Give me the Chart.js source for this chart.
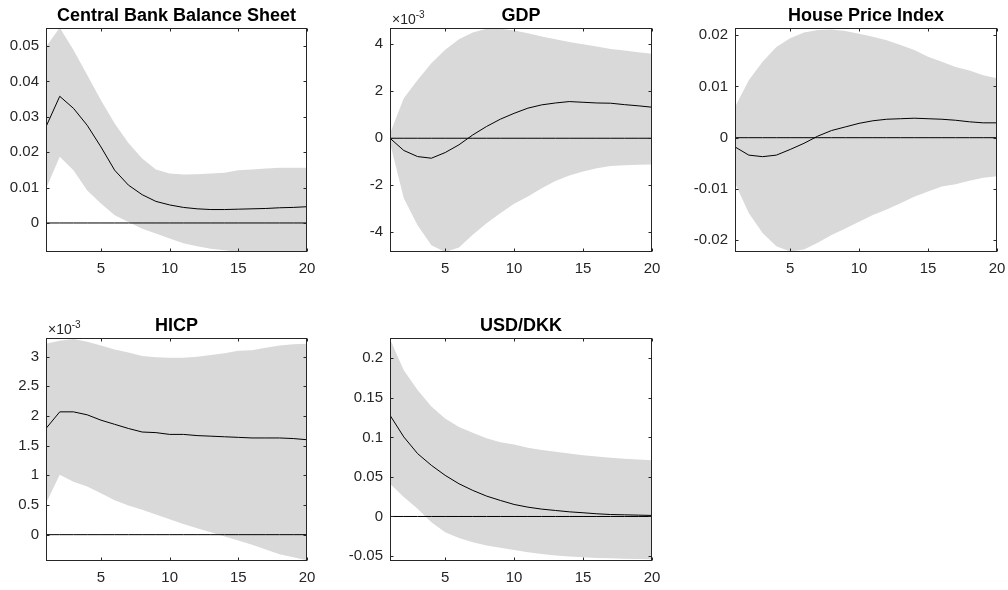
<!DOCTYPE html>
<html>
<head>
<meta charset="utf-8">
<script src="https://cdn.jsdelivr.net/npm/chart.js@4.4.0/dist/chart.umd.min.js"></script>
<style>
  html, body { margin: 0; padding: 0; background: #fff; width: 1008px; height: 590px; overflow: hidden; }
  body { position: relative; }
  canvas { position: absolute; }
</style>
</head>
<body>
<canvas id="cbChart"></canvas>
<canvas id="gdpChart"></canvas>
<canvas id="hpiChart"></canvas>
<canvas id="hicpChart"></canvas>
<canvas id="fxChart"></canvas>
<script>
const horizons = [1, 2, 3, 4, 5, 6, 7, 8, 9, 10, 11, 12, 13, 14, 15, 16, 17, 18, 19, 20];
const xTicks = [5, 10, 15, 20];

// Central Bank Balance Sheet
const cbMedian = [0.0272, 0.0358, 0.0324, 0.0276, 0.0215, 0.0149, 0.0107, 0.0080, 0.0061, 0.0051, 0.0044, 0.0040, 0.0038, 0.0038, 0.0039, 0.0040, 0.0041, 0.0043, 0.0044, 0.0046];
const cbUpper = [0.0498, 0.0552, 0.0489, 0.0418, 0.0347, 0.0281, 0.0226, 0.0182, 0.0151, 0.0140, 0.0137, 0.0138, 0.0140, 0.0142, 0.0149, 0.0151, 0.0154, 0.0156, 0.0156, 0.0156];
const cbLower = [0.0097, 0.0187, 0.0149, 0.0092, 0.0055, 0.0022, 0.0003, -0.0016, -0.0030, -0.0044, -0.0057, -0.0066, -0.0073, -0.0077, -0.0082, -0.0084, -0.0086, -0.0087, -0.0088, -0.0089];
const cbTicks = [0, 0.01, 0.02, 0.03, 0.04, 0.05];
const cbTickLabels = ['0', '0.01', '0.02', '0.03', '0.04', '0.05'];

// GDP (x10^-3)
const gdpMedian = [0, -0.52, -0.78, -0.85, -0.61, -0.28, 0.14, 0.50, 0.81, 1.06, 1.28, 1.42, 1.50, 1.56, 1.53, 1.50, 1.49, 1.43, 1.38, 1.32];
const gdpUpper = [0.2, 1.70, 2.48, 3.19, 3.76, 4.21, 4.50, 4.66, 4.66, 4.58, 4.47, 4.33, 4.21, 4.09, 4.00, 3.90, 3.80, 3.73, 3.66, 3.59];
const gdpLower = [-0.2, -2.55, -3.70, -4.55, -4.84, -4.65, -4.11, -3.62, -3.19, -2.79, -2.48, -2.13, -1.82, -1.59, -1.42, -1.28, -1.18, -1.15, -1.13, -1.12];
const gdpTicks = [-4, -2, 0, 2, 4];
const gdpTickLabels = ['-4', '-2', '0', '2', '4'];

// House Price Index
const hpiMedian = [-0.0018, -0.0034, -0.0037, -0.0034, -0.0023, -0.0011, 0.0003, 0.0014, 0.0021, 0.0028, 0.0033, 0.0036, 0.0037, 0.0038, 0.0037, 0.0036, 0.0034, 0.0031, 0.0029, 0.0029];
const hpiUpper = [0.0060, 0.0112, 0.0148, 0.0177, 0.0194, 0.0205, 0.0210, 0.0211, 0.0208, 0.0203, 0.0197, 0.0190, 0.0181, 0.0171, 0.0158, 0.0148, 0.0138, 0.0131, 0.0122, 0.0116];
const hpiLower = [-0.0089, -0.0147, -0.0186, -0.0212, -0.0222, -0.0218, -0.0205, -0.0190, -0.0177, -0.0164, -0.0151, -0.0140, -0.0128, -0.0115, -0.0105, -0.0095, -0.0091, -0.0084, -0.0078, -0.0075];
const hpiTicks = [-0.02, -0.01, 0, 0.01, 0.02];
const hpiTickLabels = ['-0.02', '-0.01', '0', '0.01', '0.02'];

// HICP (x10^-3)
const hicpMedian = [1.79, 2.07, 2.07, 2.02, 1.93, 1.86, 1.79, 1.73, 1.72, 1.69, 1.69, 1.67, 1.66, 1.65, 1.64, 1.63, 1.63, 1.63, 1.62, 1.60];
const hicpUpper = [3.22, 3.27, 3.30, 3.25, 3.19, 3.12, 3.07, 3.01, 2.99, 2.98, 2.98, 3.00, 3.03, 3.06, 3.10, 3.11, 3.15, 3.19, 3.21, 3.22];
const hicpLower = [0.53, 1.01, 0.89, 0.81, 0.70, 0.58, 0.49, 0.42, 0.34, 0.26, 0.18, 0.11, 0.04, -0.03, -0.10, -0.17, -0.25, -0.33, -0.38, -0.43];
const hicpTicks = [0, 0.5, 1, 1.5, 2, 2.5, 3];
const hicpTickLabels = ['0', '0.5', '1', '1.5', '2', '2.5', '3'];

// USD/DKK
const fxMedian = [0.128, 0.1006, 0.0795, 0.0647, 0.052, 0.0414, 0.033, 0.0258, 0.0203, 0.0152, 0.0118, 0.0093, 0.0076, 0.0059, 0.0047, 0.0034, 0.0025, 0.0021, 0.0017, 0.0013];
const fxUpper = [0.224, 0.185, 0.160, 0.139, 0.124, 0.113, 0.106, 0.099, 0.094, 0.091, 0.087, 0.084, 0.082, 0.0795, 0.0774, 0.076, 0.0744, 0.0731, 0.0719, 0.071];
const fxLower = [0.0414, 0.0245, 0.0097, -0.0072, -0.0199, -0.0271, -0.0326, -0.0368, -0.0397, -0.0423, -0.0452, -0.0474, -0.0495, -0.0507, -0.0516, -0.0524, -0.0529, -0.0533, -0.0537, -0.054];
const fxTicks = [-0.05, 0, 0.05, 0.1, 0.15, 0.2];
const fxTickLabels = ['-0.05', '0', '0.05', '0.1', '0.15', '0.2'];

const AXIS_COLOR = '#262626';
const BAND_COLOR = 'rgb(217,217,217)';
const FONT = '"Liberation Sans", Arial, Helvetica, sans-serif';
const LEFT_M = 46, TOP_M = 28, RIGHT_M = 22, BOTTOM_M = 30;

// draws box, inward ticks on all four sides, title and exponent label
const framePlugin = {
  id: 'frame',
  afterDraw(chart, args, opts) {
    const ctx = chart.ctx;
    const a = chart.chartArea;
    const xs = chart.scales.x, ys = chart.scales.y;
    const L = Math.round(a.left) + 0.5, R = Math.round(a.right) - 0.5;
    const T = Math.round(a.top) + 0.5, B = Math.round(a.bottom) - 0.5;
    ctx.save();
    ctx.strokeStyle = AXIS_COLOR;
    ctx.lineWidth = 1;
    ctx.strokeRect(L, T, R - L, B - T);
    ctx.beginPath();
    xTicks.forEach(v => {
      const px = Math.round(xs.getPixelForValue(v)) + 0.5;
      ctx.moveTo(px, B); ctx.lineTo(px, B - 3);
      ctx.moveTo(px, T); ctx.lineTo(px, T + 3);
    });
    opts.ticks.forEach(v => {
      const py = Math.round(ys.getPixelForValue(v)) + 0.5;
      ctx.moveTo(L, py); ctx.lineTo(L + 3, py);
      ctx.moveTo(R, py); ctx.lineTo(R - 3, py);
    });
    ctx.stroke();

    ctx.fillStyle = '#000';
    ctx.font = 'bold 18px ' + FONT;
    ctx.textAlign = 'center';
    ctx.textBaseline = 'alphabetic';
    ctx.fillText(opts.title, (a.left + a.right) / 2, a.top - 7);

    if (opts.exponent) {
      ctx.fillStyle = AXIS_COLOR;
      ctx.textAlign = 'left';
      ctx.font = '14px ' + FONT;
      const base = '\u00d710';
      ctx.fillText(base, a.left + 2, a.top - 4);
      const w = ctx.measureText(base).width;
      ctx.font = '10px ' + FONT;
      ctx.fillText(opts.exponent, a.left + 2 + w, a.top - 10);
    }
    ctx.restore();
  }
};

function toPoints(values) {
  return horizons.map((h, i) => ({ x: h, y: values[i] }));
}

function makePanel(id, box, title, median, lower, upper, yMin, yMax, ticks, tickLabels, exponent) {
  const canvas = document.getElementById(id);
  const w = box.right - box.left + LEFT_M + RIGHT_M;
  const h = box.bottom - box.top + TOP_M + BOTTOM_M;
  canvas.style.left = (box.left - LEFT_M) + 'px';
  canvas.style.top = (box.top - TOP_M) + 'px';
  canvas.style.width = w + 'px';
  canvas.style.height = h + 'px';
  canvas.width = w;
  canvas.height = h;

  new Chart(canvas.getContext('2d'), {
    type: 'line',
    data: {
      datasets: [
        {
          label: 'median',
          data: toPoints(median),
          borderColor: '#000',
          borderWidth: 1,
          pointRadius: 0,
          fill: false,
          tension: 0
        },
        {
          label: 'zero',
          data: toPoints(horizons.map(() => 0)),
          borderColor: '#000',
          borderWidth: 1,
          pointRadius: 0,
          fill: false
        },
        {
          label: 'upper',
          data: toPoints(upper),
          borderWidth: 0,
          borderColor: BAND_COLOR,
          backgroundColor: BAND_COLOR,
          pointRadius: 0,
          fill: '+1',
          tension: 0
        },
        {
          label: 'lower',
          data: toPoints(lower),
          borderWidth: 0,
          borderColor: BAND_COLOR,
          backgroundColor: BAND_COLOR,
          pointRadius: 0,
          fill: false,
          tension: 0
        }
      ]
    },
    options: {
      responsive: false,
      animation: false,
      events: [],
      layout: { padding: { top: TOP_M, right: RIGHT_M, left: 0, bottom: 0 } },
      plugins: {
        legend: { display: false },
        tooltip: { enabled: false },
        frame: { title: title, ticks: ticks, exponent: exponent }
      },
      scales: {
        x: {
          type: 'linear',
          min: 1,
          max: 20,
          grid: { display: false, drawTicks: false },
          border: { display: false },
          afterBuildTicks: s => { s.ticks = xTicks.map(v => ({ value: v })); },
          afterFit: s => { s.height = BOTTOM_M; },
          ticks: {
            autoSkip: false,
            maxRotation: 0,
            padding: 8,
            color: AXIS_COLOR,
            font: { family: FONT, size: 15 },
            callback: v => String(v)
          }
        },
        y: {
          type: 'linear',
          min: yMin,
          max: yMax,
          grid: { display: false, drawTicks: false },
          border: { display: false },
          afterBuildTicks: s => { s.ticks = ticks.map(v => ({ value: v })); },
          afterFit: s => { s.width = LEFT_M; },
          ticks: {
            autoSkip: false,
            padding: 7,
            color: AXIS_COLOR,
            font: { family: FONT, size: 15 },
            callback: (v, i) => tickLabels[i]
          }
        }
      }
    },
    plugins: [framePlugin]
  });
}

makePanel('cbChart', { left: 46, top: 28, right: 307, bottom: 252 }, 'Central Bank Balance Sheet',
  cbMedian, cbLower, cbUpper, -0.0082, 0.0551, cbTicks, cbTickLabels, null);
makePanel('gdpChart', { left: 390, top: 28, right: 652, bottom: 252 }, 'GDP',
  gdpMedian, gdpLower, gdpUpper, -4.84, 4.69, gdpTicks, gdpTickLabels, '-3');
makePanel('hpiChart', { left: 735, top: 28, right: 997, bottom: 252 }, 'House Price Index',
  hpiMedian, hpiLower, hpiUpper, -0.0223, 0.0214, hpiTicks, hpiTickLabels, null);
makePanel('hicpChart', { left: 46, top: 338, right: 307, bottom: 561 }, 'HICP',
  hicpMedian, hicpLower, hicpUpper, -0.444, 3.315, hicpTicks, hicpTickLabels, '-3');
makePanel('fxChart', { left: 390, top: 338, right: 652, bottom: 561 }, 'USD/DKK',
  fxMedian, fxLower, fxUpper, -0.0563, 0.2257, fxTicks, fxTickLabels, null);
</script>
</body>
</html>
